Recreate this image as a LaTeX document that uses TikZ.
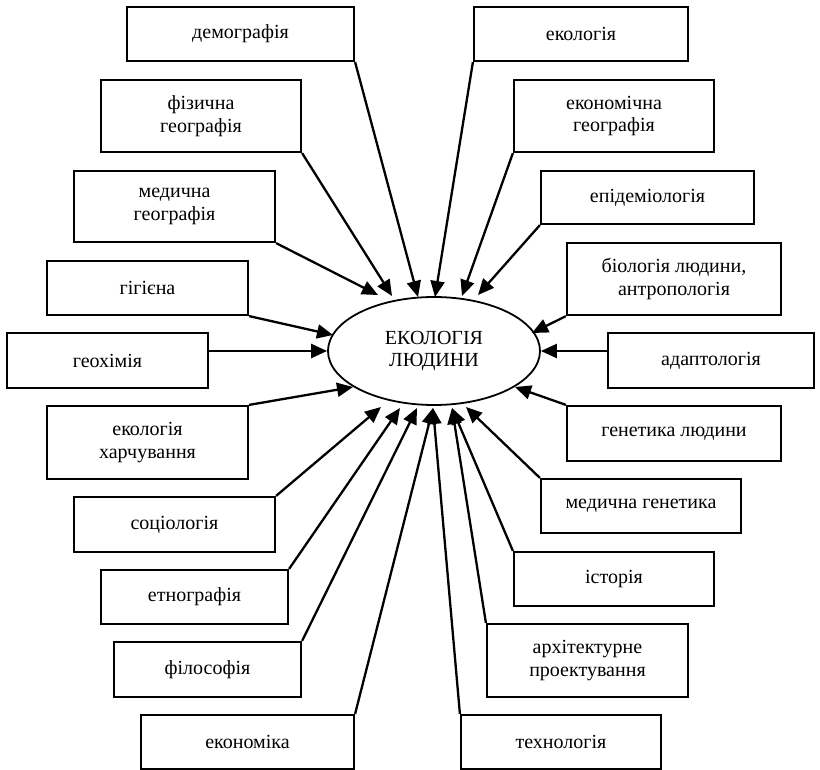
\documentclass[tikz,border=0pt]{standalone}
\usepackage{fontspec}
\setmainfont{Liberation Serif}
\usetikzlibrary{arrows.meta,shapes.geometric}

% box given by its left, right, top and bottom edges
\newcommand\discbox[6]{%
  \node[box, minimum width={(#3-#2)*1pt}, minimum height={(#5-#4)*1pt}]
    (#1) at ({(#2+#3)/2},{(#4+#5)/2}) {#6};}

\begin{document}
\begin{tikzpicture}[x=1pt,y=-1pt,
  txt/.style={font=\fontsize{20}{22.5}\selectfont, align=center},
  box/.style={txt, draw, line width=2.2pt, inner sep=0pt},
  arr/.style={line width=2.3pt, -{Triangle[length=16pt,width=14pt]}}
]
\useasboundingbox (0,0) rectangle (820,770);

% central concept
\node[txt, draw, ellipse, line width=1.8pt, inner sep=0pt,
      minimum width=212pt, minimum height=108pt] (ell) at (434,351)
      {ЕКОЛОГІЯ\\ЛЮДИНИ};

% left column
\discbox{demo}{127}{354}{7}{61}{демографія}
\discbox{fiz}{101}{301}{80}{152}{фізична\\географія}
\discbox{medgeo}{74}{275}{171}{242}{медична\\географія}
\discbox{gig}{47}{248}{261}{315}{гігієна}
\discbox{geoch}{7}{208}{333}{388}{геохімія}
\discbox{ekharch}{47}{248}{406}{479}{екологія\\харчування}
\discbox{soc}{74}{275}{497}{552}{соціологія}
\discbox{etno}{101}{288}{570}{624}{етнографія}
\discbox{filos}{114}{301}{642}{697}{філософія}
\discbox{ekon}{141}{354}{715}{769}{економіка}

% right column
\discbox{ekol}{474}{688}{7}{61}{екологія}
\discbox{ekongeo}{514}{714}{80}{152}{економічна\\географія}
\discbox{epid}{541}{754}{171}{224}{епідеміологія}
\discbox{bio}{567}{781}{243}{315}{біологія людини,\\антропологія}
\discbox{adapt}{608}{814}{333}{388}{адаптологія}
\discbox{genet}{567}{781}{406}{461}{генетика людини}
\discbox{medgen}{541}{741}{479}{533}{медична генетика}
\discbox{istor}{514}{714}{552}{606}{історія}
\discbox{arch}{487}{688}{624}{697}{архітектурне\\проектування}
\discbox{tech}{461}{661}{715}{769}{технологія}

% arrow tips around the ellipse
\coordinate (t-medgeo)  at ([shift={(-56,-56)}]ell.center);
\coordinate (t-fiz)     at ([shift={(-42,-55)}]ell.center);
\coordinate (t-demo)    at ([shift={(-16,-54)}]ell.center);
\coordinate (t-ekol)    at ([shift={(1,-54)}]ell.center);
\coordinate (t-ekongeo) at ([shift={(28,-55)}]ell.center);
\coordinate (t-epid)    at ([shift={(44,-56)}]ell.center);
\coordinate (t-gig)     at ([shift={(-101,-16)}]ell.center);
\coordinate (t-ekharch) at ([shift={(-81,36)}]ell.center);
\coordinate (t-soc)     at ([shift={(-53,56)}]ell.center);
\coordinate (t-etno)    at ([shift={(-34,57)}]ell.center);
\coordinate (t-filos)   at ([shift={(-17,57)}]ell.center);
\coordinate (t-ekon)    at ([shift={(-1,57)}]ell.center);
\coordinate (t-tech)    at ([shift={(-1,57)}]ell.center);
\coordinate (t-arch)    at ([shift={(18,57)}]ell.center);
\coordinate (t-istor)   at ([shift={(18,57)}]ell.center);
\coordinate (t-medgen)  at ([shift={(32,56)}]ell.center);
\coordinate (t-genet)   at ([shift={(81,36)}]ell.center);
\coordinate (t-bio)     at ([shift={(98,-18)}]ell.center);

% connectors
\draw[arr] (demo.south east)    -- (t-demo);
\draw[arr] (fiz.south east)     -- (t-fiz);
\draw[arr] (medgeo.south east)  -- (t-medgeo);
\draw[arr] (gig.south east)     -- (t-gig);
\draw[arr] (geoch.east |- ell.west) -- (ell.west);
\draw[arr] (ekharch.north east) -- (t-ekharch);
\draw[arr] (soc.north east)     -- (t-soc);
\draw[arr] (etno.north east)    -- (t-etno);
\draw[arr] (filos.north east)   -- (t-filos);
\draw[arr] (ekon.north east)    -- (t-ekon);

\draw[arr] (ekol.south west)    -- (t-ekol);
\draw[arr] (ekongeo.south west) -- (t-ekongeo);
\draw[arr] (epid.south west)    -- (t-epid);
\draw[arr] (bio.south west)     -- (t-bio);
\draw[arr] (adapt.west |- ell.east) -- (ell.east);
\draw[arr] (genet.north west)   -- (t-genet);
\draw[arr] (medgen.north west)  -- (t-medgen);
\draw[arr] (istor.north west)   -- (t-istor);
\draw[arr] (arch.north west)    -- (t-arch);
\draw[arr] (tech.north west)    -- (t-tech);
\end{tikzpicture}
\end{document}
